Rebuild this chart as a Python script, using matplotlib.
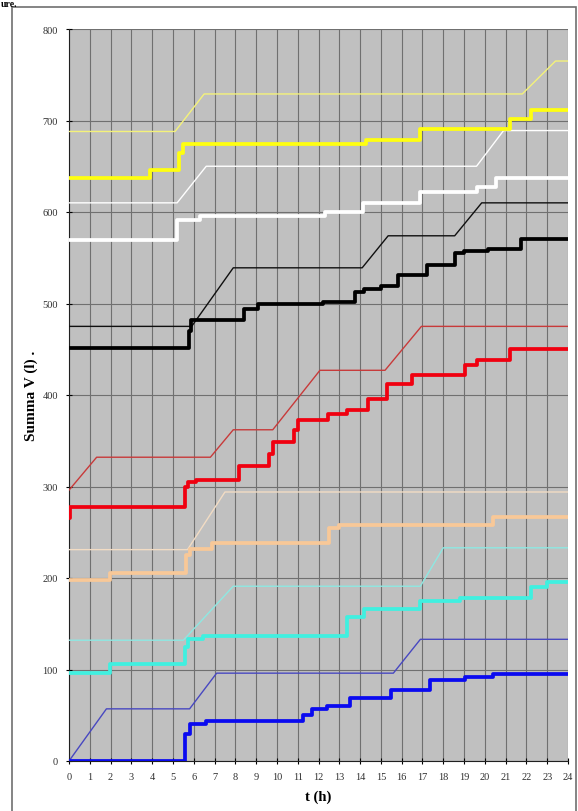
import matplotlib
matplotlib.use('Agg')
import matplotlib.pyplot as plt
from matplotlib.patches import Rectangle

# thin "norm" curves (piecewise linear) and thick measured curves (steps)
yellow_thin_t = [0, 5.1, 6.5, 21.8, 23.4, 24]
yellow_thin_v = [688, 688, 729, 729, 765, 765]
yellow_t = [0, 3.9, 5.3, 5.5, 14.3, 16.9, 21.2, 22.2, 24]
yellow_v = [637, 646, 665, 674, 679, 691, 702, 711, 711]

white_thin_t = [0, 5.2, 6.6, 19.6, 20.9, 24]
white_thin_v = [610, 610, 650, 650, 689, 689]
white_t = [0, 5.2, 6.3, 12.3, 14.15, 16.9, 19.6, 20.55, 24]
white_v = [569, 591, 596, 600, 610, 622, 627, 637, 637]

black_thin_t = [0, 5.9, 7.9, 14.1, 15.35, 18.55, 19.85, 24]
black_thin_v = [475, 475, 539, 539, 574, 574, 610, 610]
black_t = [0, 5.75, 5.85, 8.4, 9.1, 12.2, 13.75, 14.2, 15.0, 15.8, 17.2, 18.55, 19.0, 20.15, 21.75, 24]
black_v = [451, 470, 482, 494, 499, 502, 513, 516, 519, 531, 542, 555, 557, 560, 570, 570]

red_thin_t = [0, 1.33, 6.8, 7.9, 9.8, 12.07, 15.2, 16.95, 24]
red_thin_v = [296, 332, 332, 362, 362, 427, 427, 475, 475]
red_t = [0, 0.05, 5.6, 5.7, 6.1, 8.2, 9.6, 9.8, 10.8, 11.0, 12.45, 13.35, 14.4, 15.3, 16.5, 19.04, 19.6, 21.2, 24]
red_v = [266, 278, 300, 305, 307, 322, 335, 349, 362, 373, 379, 384, 396, 412, 422, 433, 438, 450, 450]

peach_thin_t = [0, 5.7, 7.5, 24]
peach_thin_v = [231, 231, 294, 294]
peach_t = [0, 1.97, 5.65, 5.8, 6.9, 12.5, 13.0, 20.4, 24]
peach_v = [198, 206, 225, 232, 238, 255, 258, 267, 267]

cyan_thin_t = [0, 5.5, 7.9, 16.9, 18.0, 24]
cyan_thin_v = [132, 132, 191, 191, 233, 233]
cyan_t = [0, 1.97, 5.6, 5.7, 6.45, 13.35, 14.2, 16.9, 18.8, 22.2, 23.0, 24]
cyan_v = [96, 106, 125, 133, 137, 157, 166, 175, 178, 190, 196, 196]

blue_thin_t = [0, 1.8, 5.8, 7.1, 15.6, 16.9, 24]
blue_thin_v = [0, 57, 57, 96, 96, 133, 133]
blue_t = [0, 5.58, 5.8, 6.6, 11.26, 11.7, 12.4, 13.5, 15.5, 17.35, 19.04, 20.4, 24]
blue_v = [0, 30, 40, 44, 50, 57, 60, 69, 78, 89, 92, 95, 95]

serif = ['Liberation Serif', 'DejaVu Serif']

fig = plt.figure(figsize=(5.78, 8.12), dpi=100)
fig.patches.append(Rectangle((12/578, -0.05), 564/578, 1.05 - 8/812, transform=fig.transFigure,
                             fill=False, edgecolor='#707070', lw=1.2))
fig.text(0.002, 1.0, 'ure.', fontsize=7, fontweight='bold', family=serif, va='top', ha='left')

ax = fig.add_axes([69/578, 50/812, 499/578, 732/812])
ax.set_facecolor('#c0c0c0')

thin = [(yellow_thin_t, yellow_thin_v, '#f4f27a'),
        (white_thin_t, white_thin_v, '#ffffff'),
        (black_thin_t, black_thin_v, '#101010'),
        (red_thin_t, red_thin_v, '#c83a3a'),
        (peach_thin_t, peach_thin_v, '#f2dcc4'),
        (cyan_thin_t, cyan_thin_v, '#8ee8e2'),
        (blue_thin_t, blue_thin_v, '#4848c0')]
thick = [(yellow_t, yellow_v, '#ffff10'),
         (white_t, white_v, '#ffffff'),
         (black_t, black_v, '#000000'),
         (red_t, red_v, '#f00010'),
         (peach_t, peach_v, '#f8c898'),
         (cyan_t, cyan_v, '#40f0e0'),
         (blue_t, blue_v, '#0a0af0')]

for t, v, c in thin:
    ax.plot(t, v, color=c, lw=1.0, zorder=3)
for t, v, c in thick:
    ax.plot(t, v, color=c, lw=2.7, drawstyle='steps-post', zorder=4)

ax.set_xlim(0, 24)
ax.set_ylim(0, 800)
ax.set_xticks(range(0, 25))
ax.set_yticks(range(0, 801, 100))
ax.grid(True, color='#707070', lw=0.8, zorder=1)
ax.set_axisbelow(True)
for s in ['top', 'right']:
    ax.spines[s].set_visible(False)
for s in ['left', 'bottom']:
    ax.spines[s].set_color('#202020')
ax.tick_params(direction='inout', length=4, width=0.8, labelsize=7.5, labelcolor='#303030', pad=6)
for lab in ax.get_xticklabels() + ax.get_yticklabels():
    lab.set_family(serif)

ax.set_xlabel('t (h)', fontsize=10.5, fontweight='bold', family=serif, labelpad=6)
ax.set_ylabel('Summa V (l) .', fontsize=11, fontweight='bold', family=serif, labelpad=3)

fig.savefig('out.png', dpi=100)
